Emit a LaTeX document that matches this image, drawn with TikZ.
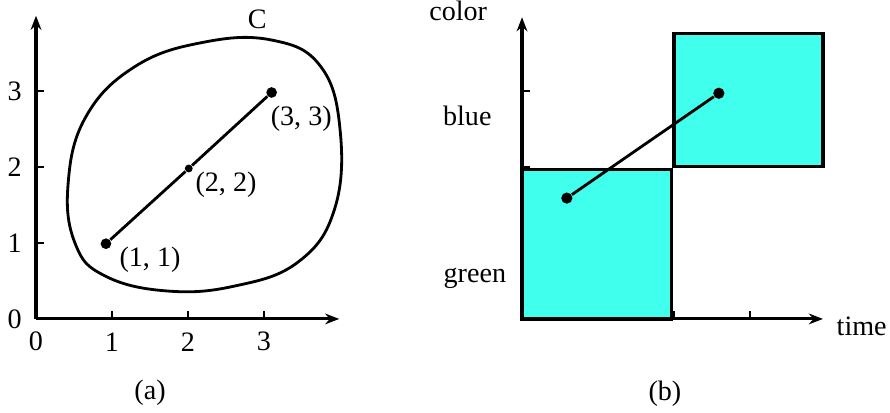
\documentclass[tikz,border=0pt]{standalone}
\usepackage{fontspec}
\setmainfont{Liberation Serif}
\definecolor{boxcyan}{RGB}{64,255,236}
\usetikzlibrary{arrows.meta}

\begin{document}
\begin{tikzpicture}[x=0.95cm,y=0.95cm,font=\rmfamily,
  axis/.style={-{Stealth[length=5pt,width=3.8pt,inset=1.6pt]},line width=1.1pt},
  tickmark/.style={line width=0.5pt},
  bigdot/.style={circle,fill=black,inner sep=0pt,minimum size=3.8pt},
  smalldot/.style={circle,fill=black,inner sep=0pt,minimum size=2.8pt},
  cell/.style={fill=boxcyan,draw=black,line width=1.2pt}]
  \useasboundingbox (-0.474,-1.237) rectangle (11.237,4.197);

  %% (a) region C in the plane
  \foreach \i in {1,2,3} {
    \draw[tickmark] (\i,0) -- (\i,0.1);
    \draw[tickmark] (0,\i) -- (0.1,\i);
    \node at (\i,-0.3) {\i};
    \node at (-0.28,\i) {\i};
  }
  \node at (0,-0.3) {0};
  \node at (-0.28,0) {0};
  \draw[axis] (0,0) -- (0,3.99);
  \draw[axis] (0,0) -- (3.99,0);

  %% closed curve C
  \draw[line width=1pt] plot[smooth cycle,tension=0.7] coordinates {
    (0.42,1.75) (0.65,2.65) (1.3,3.32) (2.2,3.64) (3.1,3.67)
    (3.74,3.33) (4.0,2.5) (3.93,1.45) (3.45,0.75) (2.6,0.43)
    (1.7,0.37) (0.9,0.57) (0.52,0.98)};
  \node (curvelbl) at (2.91,3.94) {C};

  %% segment through C
  \node[bigdot] (pa) at (0.92,0.99) {};
  \node[smalldot] (pb) at (2.01,1.98) {};
  \node[bigdot] (pc) at (3.1,2.98) {};
  \draw[line width=1pt] (pa) -- (pb) -- (pc);
  \node (lbla) at (1.5,0.78) {(1, 1)};
  \node (lblb) at (2.5,1.76) {(2, 2)};
  \node (lblc) at (3.49,2.64) {(3, 3)};
  \node (capa) at (1.5,-0.97) {(a)};

  %% (b) color against time
  \begin{scope}[shift={(6.395,0)}]
    \foreach \i in {2,3} {
      \draw[tickmark] (\i,0) -- (\i,0.1);
      \draw[tickmark] (0,\i) -- (0.1,\i);
    }
    \draw[cell] (0,0) rectangle (1.97,1.97);
    \draw[cell] (2.0,2.01) rectangle (3.96,3.76);
    \draw[axis] (0,0) -- (0,3.97);
    \draw[axis] (0,0) -- (3.96,0);

    \node[bigdot,minimum size=4pt] (qa) at (0.59,1.59) {};
    \node[bigdot,minimum size=4pt] (qb) at (2.59,2.97) {};
    \draw[line width=1pt] (qa) -- (qb);

    \node (colorlbl) at (-0.84,4.05) {color};
    \node (bluelbl) at (-0.72,2.67) {blue};
    \node (greenlbl) at (-0.62,0.54) {green};
    \node (timelbl) at (4.47,-0.1) {time};
    \node (capb) at (1.88,-0.99) {(b)};
  \end{scope}
\end{tikzpicture}
\end{document}
